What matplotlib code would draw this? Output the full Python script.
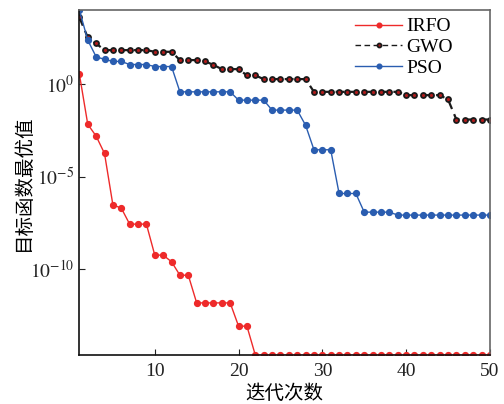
import numpy as np
import matplotlib
matplotlib.use("Agg")
import matplotlib.pyplot as plt

plt.rcParams['font.family'] = ['Liberation Serif', 'Noto Sans CJK SC']
plt.rcParams['mathtext.fontset'] = 'stix'

iterations = list(range(1, 51))

irfo_log = [0.56, -2.16, -2.80, -3.74, -6.53, -6.70, -7.57, -7.57, -7.57, -9.25,
            -9.25, -9.61, -10.34, -10.34, -11.84, -11.84, -11.84, -11.84, -11.84, -13.10,
            -13.10] + [-14.67] * 29
gwo_log = [3.63, 2.55, 2.22, 1.86, 1.86, 1.86, 1.86, 1.86, 1.86, 1.77,
           1.77, 1.77, 1.32, 1.32, 1.32, 1.25, 1.06, 0.83, 0.83, 0.83,
           0.49, 0.49, 0.29, 0.29, 0.29, 0.29, 0.29, 0.29] + [-0.40] * 11 + \
          [-0.58] * 5 + [-0.81] + [-1.90] * 5
pso_log = [4.03, 2.40, 1.50, 1.36, 1.25, 1.25, 1.08, 1.08, 1.08, 0.97,
           0.97, 0.97] + [-0.40] * 7 + [-0.85] * 4 + [-1.39] * 4 + [-2.21] + \
          [-3.54] * 3 + [-5.91] * 3 + [-6.92] * 4 + [-7.08] * 12

irfo = 10.0 ** np.array(irfo_log)
gwo = 10.0 ** np.array(gwo_log)
pso = 10.0 ** np.array(pso_log)

fig = plt.figure(figsize=(5.04, 4.04), dpi=100)
ax = fig.add_axes([0.1575, 0.121, 0.8145, 0.854])

ax.plot(iterations, irfo, color='#ee2a2a', lw=1.0, marker='o', ms=4.2,
        mec='#ee2a2a', mfc='#ee2a2a', label='IRFO')
ax.plot(iterations, gwo, color='#1a1a1a', lw=1.6, ls=(0, (4, 2.5)), marker='o', ms=3.6,
        mec='#1a1a1a', mfc='#b01c1c', mew=1.3, label='GWO')
ax.plot(iterations, pso, color='#2a5db0', lw=1.0, marker='o', ms=4.2,
        mec='#2a5db0', mfc='#2a5db0', label='PSO')

ax.set_yscale('log')
ax.set_xlim(1, 50)
allv = np.concatenate([irfo, gwo, pso])
ax.set_ylim(allv.min(), allv.max())
ax.set_xticks([10, 20, 30, 40, 50])
ax.set_yticks([1e0, 1e-5, 1e-10])
ax.set_yticklabels([r'$10^{0}$', r'$10^{-5}$', r'$10^{-10}$'])
ax.yaxis.set_minor_locator(matplotlib.ticker.NullLocator())
ax.tick_params(direction='in', length=4, width=0.8, labelsize=14, colors='#222222')
ax.tick_params(axis='x', pad=6)

for s in ['left', 'bottom']:
    ax.spines[s].set_color('#111111')
    ax.spines[s].set_linewidth(1.2)
for s in ['top', 'right']:
    ax.spines[s].set_color('#666666')
    ax.spines[s].set_linewidth(1.2)

ax.set_xlabel('迭代次数', fontsize=14, family=['Noto Sans CJK SC'], labelpad=2)
ax.set_ylabel('目标函数最优值', fontsize=14, family=['Noto Sans CJK SC'], labelpad=-3)

leg = ax.legend(loc='upper right', bbox_to_anchor=(0.928, 1.0), frameon=False,
                fontsize=14, handlelength=2.4, markerscale=0.8, borderaxespad=0.0,
                labelspacing=0.15, handletextpad=0.2)
for h in leg.get_lines():
    h.set_linewidth(1.0)

fig.savefig('out.png', dpi=100)
